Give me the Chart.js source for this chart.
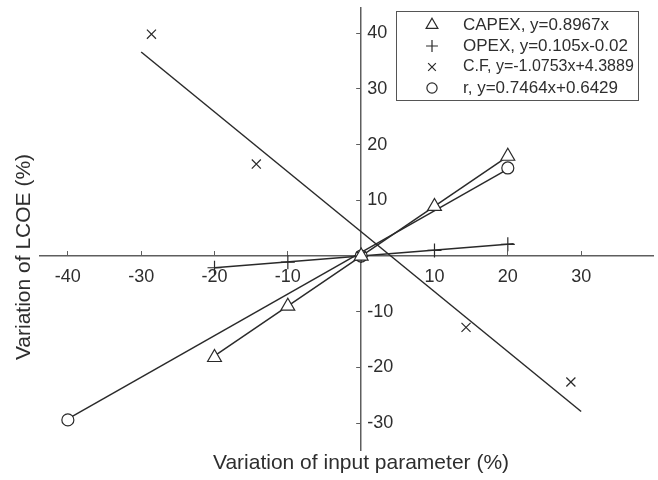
<!DOCTYPE html>
<html><head><meta charset="utf-8">
<script src="https://cdn.jsdelivr.net/npm/chart.js@4.4.1/dist/chart.umd.min.js"></script>
<style>html,body{margin:0;padding:0;background:#fff;} canvas{display:block;}</style>
</head><body>
<canvas id="c" width="658" height="480"></canvas>
<script>
// ---- data ----
const capexX = [-20, -10, 0, 10, 20];
const capexY = [-18.2, -9.0, 0, 8.9, 17.9];
const opexX = [-20, -10, 0, 10, 20];
const opexY = [-2.1, -1.1, 0, 1.0, 2.1];
const cfX = [-28.6, -14.3, 0, 14.3, 28.6];
const cfY = [39.8, 16.5, 0, -12.8, -22.6];
const rX = [-40, 0, 20];
const rY = [-29.4, 0, 15.8];
// trend line end points
const capexFitX = [-20, 20];
const capexFitY = [-17.9, 17.9];
const opexFitX = [-20, 20.8];
const opexFitY = [-2.1, 2.2];
const cfFitX = [-30, 30];
const cfFitY = [36.6, -27.9];
const rFitX = [-40, 20];
const rFitY = [-29.2, 15.6];
const seriesLabels = ['CAPEX, y=0.8967x', 'OPEX, y=0.105x-0.02', 'C.F, y=-1.0753x+4.3889', 'r, y=0.7464x+0.6429'];
const xTickLabels = [-40, -30, -20, -10, 10, 20, 30];
const yTickLabels = [-30, -20, -10, 10, 20, 30, 40];
const xTitle = 'Variation of input parameter (%)';
const yTitle = 'Variation of LCOE (%)';

const FONT = '"Liberation Sans", Arial, sans-serif';
const INK = '#2a2a2a';
const AXIS = '#5e5e5e';
const TEXT = '#2e2e2e';

const pts = (xs, ys) => xs.map((x, i) => ({x: x, y: ys[i]}));

function markerSet(label, xs, ys, style, radius) {
  return {
    label: label, data: pts(xs, ys), showLine: false,
    pointStyle: style, pointRadius: radius, pointHoverRadius: radius,
    pointBorderColor: INK, pointBackgroundColor: '#ffffff', pointBorderWidth: 1.2,
    borderColor: INK, backgroundColor: '#ffffff'
  };
}
function fitSet(xs, ys) {
  return {
    label: '', data: pts(xs, ys), showLine: true, pointRadius: 0, pointHoverRadius: 0,
    borderColor: INK, borderWidth: 1.5, fill: false, tension: 0
  };
}

const datasets = [
  markerSet(seriesLabels[0], capexX, capexY, 'triangle', 8),
  markerSet(seriesLabels[1], opexX, opexY, 'cross', 7),
  markerSet(seriesLabels[2], cfX, cfY, 'crossRot', 6.4),
  markerSet(seriesLabels[3], rX, rY, 'circle', 6),
  fitSet(capexFitX, capexFitY),
  fitSet(opexFitX, opexFitY),
  fitSet(cfFitX, cfFitY),
  fitSet(rFitX, rFitY)
];

function zeroFit(s) {
  if (s.isHorizontal()) { s.height = 0; } else { s.width = 0; }
  s.paddingTop = 0; s.paddingBottom = 0; s.paddingLeft = 0; s.paddingRight = 0;
}

// move the axes so they cross at the origin
const crossAxes = {
  id: 'crossAxes',
  afterLayout(chart) {
    const xs = chart.scales.x, ys = chart.scales.y;
    const y0 = ys.getPixelForValue(0);
    const x0 = xs.getPixelForValue(0);
    xs.top = y0; xs.bottom = y0;
    ys.left = x0; ys.right = x0;
  }
};

const titlesAndLegend = {
  id: 'titlesAndLegend',
  afterDraw(chart) {
    const ctx = chart.ctx;
    ctx.save();
    ctx.fillStyle = TEXT;
    ctx.font = '21px ' + FONT;
    ctx.textAlign = 'center';
    ctx.textBaseline = 'middle';
    ctx.fillText(xTitle, 361, 463);
    ctx.save();
    ctx.translate(24, 257);
    ctx.rotate(-Math.PI / 2);
    ctx.fillText(yTitle, 0, 0);
    ctx.restore();
    // legend box
    ctx.strokeStyle = '#555555';
    ctx.lineWidth = 1;
    ctx.strokeRect(396.5, 11.5, 242, 89);
    const rows = [25, 46, 67, 88];
    for (let i = 0; i < 4; i++) {
      const ds = chart.data.datasets[i];
      ctx.strokeStyle = INK;
      ctx.fillStyle = '#ffffff';
      ctx.lineWidth = 1.2;
      Chart.helpers.drawPoint(ctx, {pointStyle: ds.pointStyle, radius: ds.pointRadius * 0.85, rotation: 0, borderWidth: 1.2}, 432, rows[i]);
      ctx.fillStyle = TEXT;
      ctx.textAlign = 'left';
      ctx.font = (i === 2 ? '16px ' : '17px ') + FONT;
      ctx.fillText(ds.label, 463, rows[i]);
    }
    ctx.restore();
  }
};

new Chart(document.getElementById('c'), {
  type: 'scatter',
  data: {datasets: datasets},
  options: {
    responsive: false,
    animation: false,
    events: [],
    layout: {autoPadding: false, padding: {left: 40, right: 5, top: 8, bottom: 30}},
    plugins: {legend: {display: false}, tooltip: {enabled: false}},
    scales: {
      x: {
        type: 'linear', position: 'top', min: -43.8, max: 39.8,
        afterFit: zeroFit,
        grid: {display: true, drawOnChartArea: false, drawTicks: true, tickLength: 5, color: AXIS, lineWidth: 1},
        border: {display: true, color: AXIS, width: 1.5},
        ticks: {
          stepSize: 10, includeBounds: false, autoSkip: false, maxRotation: 0, minRotation: 0,
          mirror: true, padding: 10, color: TEXT, font: {family: FONT, size: 18},
          callback: v => xTickLabels.includes(v) ? String(v) : ''
        }
      },
      y: {
        type: 'linear', position: 'left', min: -34.8, max: 44.5,
        afterFit: zeroFit,
        grid: {display: true, drawOnChartArea: false, drawTicks: true, tickLength: 5, color: AXIS, lineWidth: 1},
        border: {display: true, color: AXIS, width: 1.5},
        ticks: {
          stepSize: 10, includeBounds: false, autoSkip: false,
          mirror: true, padding: 6, color: TEXT, font: {family: FONT, size: 18},
          callback: v => yTickLabels.includes(v) ? String(v) : ''
        }
      }
    }
  },
  plugins: [crossAxes, titlesAndLegend]
});
</script>
</body></html>
